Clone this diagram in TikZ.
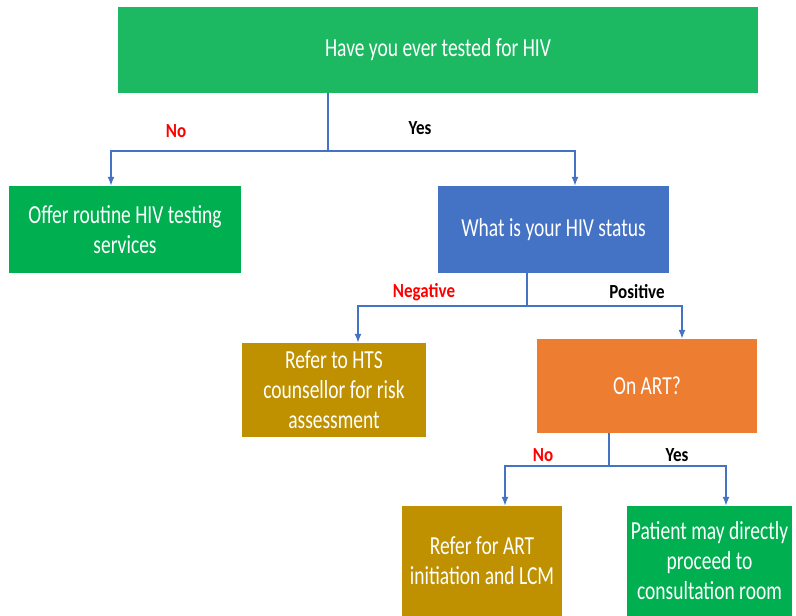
\documentclass[tikz,border=0pt]{standalone}
\usepackage{fontspec}
\setmainfont[FakeStretch=0.75]{Carlito}
\newfontfamily\lblfont[FakeStretch=0.85]{Carlito}
\usetikzlibrary{arrows.meta}
\definecolor{topgreen}{RGB}{29,185,98}
\definecolor{okgreen}{RGB}{0,176,80}
\definecolor{qblue}{RGB}{68,114,196}
\definecolor{gold}{RGB}{191,144,0}
\definecolor{artorange}{RGB}{237,125,49}
\tikzset{box/.style = {shape=rectangle,inner sep=0pt,text=white,align=center,
  font=\fontsize{26}{30}\selectfont}}
\tikzset{link/.style = {draw=qblue,line width=1.5pt}}
\tikzset{flow/.style = {link,-{Latex[length=9pt,width=7pt]}}}
\tikzset{lbl/.style = {font=\lblfont\bfseries\fontsize{20}{24}\selectfont}}

\begin{document}
\begin{tikzpicture}[x=1pt,y=-1pt]
      \useasboundingbox (0,0) rectangle (796,616);
      \node[box,fill=topgreen,minimum width=640,minimum height=86] (q1) at (438,50) {Have you ever tested for HIV};
      \node[box,fill=okgreen,minimum width=232,minimum height=87] (offer) at (125,229.5) {Offer routine HIV testing\\services};
      \node[box,fill=qblue,minimum width=231,minimum height=87] (status) at (553.5,229.5) {What is your HIV status};
      \node[box,fill=gold,minimum width=184,minimum height=94] (hts) at (334,390) {Refer to HTS\\counsellor for risk\\assessment};
      \node[box,fill=artorange,minimum width=220,minimum height=94] (art) at (647,386) {On ART?};
      \node[box,fill=gold,minimum width=160,minimum height=110] (lcm) at (482,561) {Refer for ART\\initiation and LCM};
      \node[box,fill=okgreen,minimum width=165,minimum height=110] (room) at (709.5,561) {Patient may directly\\proceed to\\consultation room};

      \coordinate (b1) at (328,151);
      \coordinate (b2) at (527,306);
      \coordinate (b3) at (609,466);

      \draw[link] (b1 |- q1.south) -- (b1);
      \draw[flow] (b1) -| ([xshift=-14pt]offer.north);
      \draw[flow] (b1) -| ([xshift=21.5pt]status.north);
      \draw[link] (b2 |- status.south) -- (b2);
      \draw[flow] (b2) -| ([xshift=24pt]hts.north);
      \draw[flow] (b2) -| ([xshift=35pt]art.north);
      \draw[link] (b3 |- art.south) -- (b3);
      \draw[flow] (b3) -| ([xshift=23pt]lcm.north);
      \draw[flow] (b3) -| ([xshift=16.5pt]room.north);

      \node[lbl,text=red] (no1) at (176,131) {No};
      \node[lbl] (yes1) at (420,128) {Yes};
      \node[lbl,text=red] (neg) at (424,292) {Negative};
      \node[lbl] (pos) at (637,292) {Positive};
      \node[lbl,text=red] (no2) at (543,455) {No};
      \node[lbl] (yes2) at (677,455) {Yes};
    \end{tikzpicture}
\end{document}
